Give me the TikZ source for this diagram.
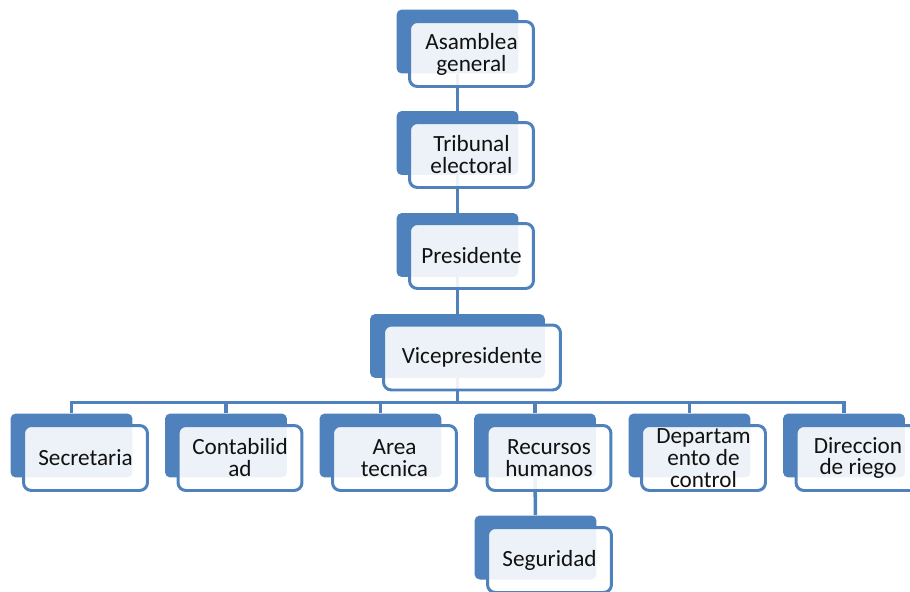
\documentclass[tikz,border=0pt]{standalone}
\usepackage{fontspec}
\setmainfont{Carlito}
\usetikzlibrary{calc,backgrounds}
\definecolor{orgblue}{HTML}{4F81BD}
\definecolor{orgtext}{HTML}{111111}

\begin{document}
\begin{tikzpicture}[x=0.02cm, y=-0.02cm,
  backbox/.style={fill=orgblue, rounded corners=3pt, inner sep=0pt,
    minimum width=2.44cm, minimum height=1.28cm},
  frontbox/.style={draw=orgblue, line width=1.7pt, fill=white, fill opacity=0.9,
    text opacity=1, text=orgtext, rounded corners=4.5pt, inner sep=1pt, align=center,
    minimum width=2.48cm, minimum height=1.30cm,
    font=\fontsize{13.2}{12.5}\selectfont},
  link/.style={orgblue, line width=2pt}]

  \clip (0,0) rectangle (910,592);

  % Upper chain
  \node[backbox] (asb) at (457.5,41.5) {};
  \node[frontbox] (asf) at ($(asb)+(14,12.5)$) {Asamblea\\general};
  \node[backbox] (trb) at (457.5,143) {};
  \node[frontbox] (trf) at ($(trb)+(14,12)$) {Tribunal\\electoral};
  \node[backbox] (prb) at (457.5,245) {};
  \node[frontbox] (prf) at ($(prb)+(14,11)$) {Presidente};
  \node[backbox, minimum width=3.5cm] (vpb) at (457.5,346) {};
  \node[frontbox, minimum width=3.54cm] (vpf) at ($(vpb)+(14.5,11.5)$) {Vicepresidente};

  % Departments
  \foreach \nm/\i/\txt in {sec/0/Secretaria, con/1/{Contabilid\\ad},
    are/2/{Area\\tecnica}, rec/3/{Recursos\\humanos},
    dep/4/{Departam\\ento de\\control}, dir/5/{Direccion\\de riego}} {
    \node[backbox] (\nm b) at (71.5+154.5*\i, 445.5) {};
    \node[frontbox] (\nm f) at ($(\nm b)+(14,12.5)$) {\txt};
  }
  \node[backbox] (segb) at (535.5,547.5) {};
  \node[frontbox] (segf) at ($(segb)+(14,12.5)$) {Seguridad};

  % Connectors
  \begin{pgfonlayer}{background}
    \draw[link] (asb) -- (trb) -- (prb) -- (vpb);
    \coordinate (bar) at (457.5,402.7);
    \draw[link] (vpb) -- (bar);
    \foreach \nm in {sec,con,are,rec,dep,dir}
      \draw[link] (bar) -| (\nm b);
    \draw[link] (recb) -- (segb);
  \end{pgfonlayer}

\end{tikzpicture}
\end{document}
